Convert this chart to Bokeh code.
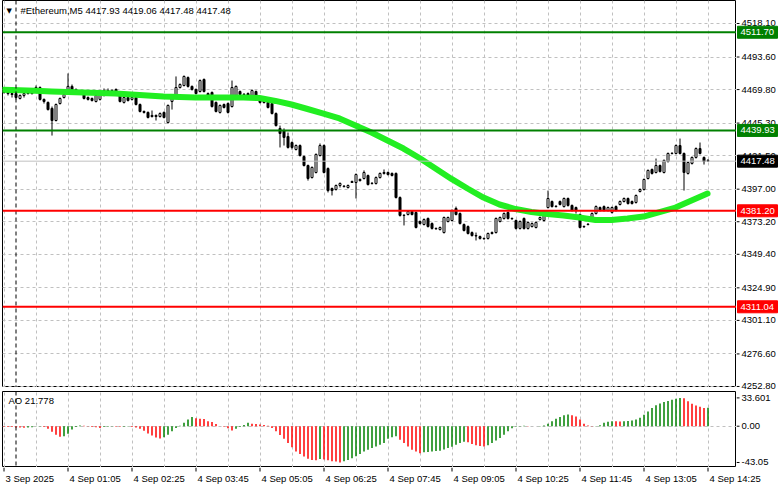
from bokeh.plotting import figure
from bokeh.models import Range1d, FixedTicker, Span, ColumnDataSource
from bokeh.layouts import column, row
from bokeh.embed import file_html
from bokeh.resources import INLINE
from bokeh.core.properties import value

# ---------------- data ----------------
bar_open = [
    4467.7, 4468.4, 4466.9, 4466.9, 4463.3, 4465.5, 4466.9, 4466.9, 4469.9, 4471.3,
    4462.6, 4460.4, 4456.0, 4447.2, 4459.6, 4464.0, 4466.9, 4472.1, 4469.9, 4468.4,
    4468.4, 4464.0, 4463.3, 4461.1, 4462.6, 4465.5, 4469.1, 4468.4, 4469.9, 4465.5,
    4460.4, 4464.0, 4462.6, 4464.0, 4458.9, 4453.8, 4453.1, 4450.1, 4450.9, 4450.1,
    4453.1, 4445.7, 4461.1, 4465.5, 4471.3, 4472.8, 4478.6, 4472.1, 4469.9, 4468.4,
    4477.2, 4466.9, 4467.7, 4460.4, 4453.1, 4458.9, 4459.6, 4457.4, 4465.5, 4468.4,
    4466.2, 4466.9, 4465.5, 4468.4, 4463.3, 4461.8, 4460.4, 4459.6, 4452.3, 4441.4,
    4439.9, 4435.5, 4431.1, 4426.0, 4428.9, 4420.9, 4414.3, 4405.5, 4409.2, 4421.6,
    4428.9, 4412.1, 4397.5, 4396.8, 4399.7, 4399.0, 4398.2, 4401.9, 4401.9, 4404.1,
    4404.8, 4407.0, 4401.2, 4401.2, 4405.5, 4408.5, 4409.2, 4408.5, 4408.5, 4390.9,
    4377.8, 4378.5, 4380.7, 4380.0, 4373.4, 4371.2, 4375.6, 4371.9, 4368.3, 4367.5,
    4365.3, 4373.4, 4374.1, 4382.9, 4379.2, 4371.2, 4369.7, 4365.3, 4363.1, 4362.4,
    4361.0, 4361.0, 4364.6, 4365.3, 4373.4, 4375.6, 4380.0, 4375.6, 4374.1, 4368.3,
    4375.6, 4368.3, 4369.7, 4369.0, 4374.8, 4374.1, 4383.6, 4388.0, 4384.3, 4388.0,
    4384.3, 4390.2, 4385.1, 4383.6, 4378.5, 4369.7, 4371.2, 4375.6, 4379.2, 4383.6,
    4384.3, 4381.4, 4380.0, 4384.3, 4385.8, 4388.0, 4390.2, 4388.0, 4387.3, 4395.3,
    4396.8, 4404.8, 4411.4, 4409.2, 4414.3, 4409.2, 4417.2, 4423.1, 4423.1, 4428.9,
    4423.1, 4408.5, 4415.8, 4420.2, 4426.7, 4420.2, 4417.93,
]
bar_high = [
    4469.1, 4469.1, 4467.7, 4467.7, 4466.2, 4467.7, 4467.7, 4470.6, 4472.8, 4472.1,
    4463.3, 4461.1, 4457.4, 4459.6, 4464.0, 4466.9, 4481.6, 4473.5, 4470.6, 4469.1,
    4469.1, 4464.8, 4464.0, 4466.2, 4466.2, 4470.6, 4470.6, 4469.9, 4470.6, 4466.2,
    4464.8, 4464.8, 4464.8, 4464.8, 4459.6, 4454.5, 4453.8, 4454.5, 4451.6, 4453.1,
    4453.8, 4458.9, 4465.5, 4479.4, 4474.3, 4480.1, 4479.4, 4472.8, 4470.6, 4477.2,
    4477.9, 4467.7, 4468.4, 4461.1, 4458.9, 4459.6, 4460.4, 4476.4, 4472.8, 4469.1,
    4466.9, 4467.7, 4469.9, 4469.1, 4464.0, 4462.6, 4461.1, 4460.4, 4453.1, 4443.5,
    4441.4, 4438.4, 4431.9, 4429.7, 4429.7, 4421.6, 4415.0, 4413.6, 4423.1, 4430.4,
    4429.7, 4412.9, 4398.2, 4400.4, 4401.9, 4399.7, 4400.4, 4403.3, 4408.5, 4404.8,
    4410.7, 4407.7, 4401.9, 4406.3, 4409.2, 4411.4, 4409.9, 4409.2, 4409.2, 4391.7,
    4378.5, 4381.4, 4381.4, 4380.7, 4374.1, 4375.6, 4376.3, 4372.7, 4369.0, 4369.7,
    4377.0, 4377.0, 4382.2, 4384.3, 4380.0, 4371.9, 4370.5, 4366.1, 4365.3, 4363.1,
    4361.7, 4365.3, 4366.1, 4376.3, 4377.0, 4380.0, 4380.7, 4376.3, 4374.8, 4374.1,
    4376.3, 4373.4, 4372.7, 4373.4, 4377.0, 4380.0, 4396.0, 4388.7, 4385.1, 4388.7,
    4390.9, 4390.9, 4385.8, 4384.3, 4379.2, 4370.5, 4371.9, 4380.0, 4385.1, 4384.3,
    4385.1, 4384.3, 4384.3, 4385.1, 4388.7, 4390.9, 4390.9, 4388.7, 4393.1, 4397.5,
    4404.8, 4411.4, 4412.1, 4419.4, 4415.0, 4418.7, 4423.8, 4423.8, 4429.7, 4434.0,
    4423.8, 4417.2, 4420.9, 4427.5, 4431.1, 4420.9, 4419.06,
]
bar_low = [
    4466.9, 4465.5, 4464.0, 4462.6, 4462.6, 4464.0, 4466.2, 4466.2, 4469.1, 4461.8,
    4459.6, 4454.5, 4436.2, 4446.5, 4458.9, 4463.3, 4466.2, 4468.4, 4466.9, 4467.7,
    4462.6, 4461.8, 4461.1, 4460.4, 4461.8, 4464.8, 4467.7, 4467.7, 4467.7, 4460.4,
    4459.6, 4461.1, 4461.8, 4458.2, 4453.1, 4452.3, 4448.7, 4449.4, 4447.2, 4449.4,
    4448.7, 4445.0, 4455.2, 4464.8, 4470.6, 4472.1, 4471.3, 4469.1, 4466.2, 4467.7,
    4467.7, 4464.8, 4456.7, 4453.1, 4452.3, 4456.0, 4452.3, 4456.7, 4464.8, 4465.5,
    4465.5, 4464.0, 4464.8, 4464.8, 4459.6, 4459.6, 4456.0, 4451.6, 4442.8, 4427.5,
    4428.9, 4426.7, 4426.0, 4425.3, 4420.9, 4413.6, 4403.3, 4404.8, 4408.5, 4420.9,
    4408.5, 4394.6, 4392.4, 4396.0, 4398.2, 4398.2, 4397.5, 4401.9, 4390.2, 4402.6,
    4404.1, 4399.7, 4400.4, 4400.4, 4404.8, 4407.7, 4407.0, 4406.3, 4390.2, 4377.0,
    4370.5, 4377.8, 4377.8, 4368.3, 4371.2, 4370.5, 4369.0, 4367.5, 4367.5, 4366.8,
    4364.6, 4372.7, 4373.4, 4377.8, 4371.2, 4366.1, 4363.9, 4362.4, 4359.5, 4360.2,
    4360.2, 4360.2, 4363.9, 4364.6, 4372.7, 4374.8, 4374.8, 4374.8, 4367.5, 4367.5,
    4367.5, 4367.5, 4369.0, 4368.3, 4374.1, 4373.4, 4382.9, 4383.6, 4383.6, 4385.1,
    4383.6, 4384.3, 4380.7, 4379.2, 4368.3, 4369.0, 4370.5, 4374.8, 4378.5, 4380.7,
    4380.7, 4380.7, 4379.2, 4380.7, 4385.1, 4387.3, 4385.8, 4385.8, 4386.5, 4394.6,
    4396.0, 4404.1, 4407.7, 4408.5, 4409.2, 4408.5, 4416.5, 4422.4, 4422.4, 4422.4,
    4396.0, 4407.7, 4415.0, 4419.4, 4422.4, 4415.0, 4417.48,
]
bar_close = [
    4468.4, 4466.9, 4466.2, 4464.0, 4465.5, 4466.9, 4467.2, 4469.9, 4471.3, 4462.6,
    4461.1, 4455.2, 4447.2, 4458.9, 4463.3, 4466.2, 4472.1, 4469.1, 4468.4, 4468.7,
    4463.3, 4462.6, 4461.8, 4465.5, 4465.5, 4469.1, 4468.4, 4469.1, 4468.4, 4461.1,
    4464.0, 4461.8, 4464.0, 4458.9, 4453.8, 4453.1, 4449.4, 4450.9, 4450.1, 4452.3,
    4449.4, 4458.2, 4464.8, 4471.3, 4473.5, 4479.4, 4472.1, 4469.9, 4466.9, 4476.4,
    4468.4, 4465.5, 4457.4, 4453.8, 4458.2, 4456.7, 4453.1, 4471.3, 4472.1, 4466.2,
    4466.5, 4464.8, 4469.1, 4465.5, 4460.4, 4460.4, 4456.7, 4452.3, 4443.5, 4437.7,
    4434.8, 4427.5, 4427.5, 4428.9, 4421.6, 4414.3, 4404.8, 4412.9, 4422.4, 4428.9,
    4409.2, 4396.0, 4396.0, 4399.7, 4401.2, 4399.3, 4399.7, 4402.6, 4407.7, 4403.3,
    4409.2, 4400.4, 4401.4, 4405.5, 4408.5, 4409.2, 4407.7, 4407.0, 4390.9, 4377.8,
    4378.0, 4380.7, 4378.5, 4369.0, 4371.9, 4374.8, 4369.7, 4368.3, 4368.0, 4369.0,
    4376.3, 4376.3, 4381.4, 4378.5, 4371.9, 4366.8, 4364.6, 4363.1, 4362.8, 4361.0,
    4360.7, 4364.6, 4365.3, 4375.6, 4376.3, 4379.2, 4375.6, 4375.3, 4368.3, 4373.4,
    4368.3, 4372.7, 4371.9, 4372.7, 4376.3, 4379.2, 4390.2, 4384.3, 4384.6, 4385.8,
    4390.2, 4385.1, 4381.4, 4381.4, 4369.0, 4369.4, 4371.5, 4379.2, 4384.3, 4381.4,
    4381.4, 4383.6, 4383.6, 4381.4, 4388.0, 4390.2, 4386.5, 4386.5, 4392.4, 4396.8,
    4404.1, 4410.7, 4408.5, 4414.3, 4409.9, 4418.0, 4423.1, 4423.3, 4428.9, 4423.1,
    4409.2, 4416.5, 4420.2, 4426.7, 4423.1, 4417.2, 4417.48,
]

ma_bar = list(range(0, 177, 4))
ma_value = [
    4469.6, 4469.3, 4468.9, 4468.4, 4468.0, 4467.7, 4467.3, 4466.9, 4466.2, 4465.5,
    4464.7, 4464.4, 4464.0, 4464.0, 4464.0, 4464.0, 4463.6, 4461.5, 4458.9, 4455.6,
    4452.3, 4448.7, 4443.5, 4438.4, 4432.6, 4426.7, 4419.8, 4412.1, 4404.5, 4397.5,
    4390.9, 4385.8, 4382.5, 4380.3, 4378.9, 4377.8, 4376.3, 4374.5, 4374.5, 4375.6,
    4377.0, 4380.3, 4383.6, 4388.7, 4393.8,
]

ao_value = [
    -0.6, -0.8, -1.0, -1.4, -1.6, -1.8, -1.5, -1.2, -0.3, 0.2,
    -1.0, -3.0, -6.5, -10.0, -12.5, -12.0, -9.0, -4.0, -1.0, 0.8,
    0.5, -0.3, -0.8, -1.2, -2.0, -1.0, -0.5, -0.3, -0.5, -0.7,
    -0.5, -0.3, -0.8, -1.5, -3.0, -5.5, -8.5, -11.0, -13.5, -14.5,
    -13.0, -10.0, -6.0, -2.0, 0.5, 4.0, 8.0, 11.0, 9.5, 9.0,
    8.5, 6.0, 5.0, 2.5, 0.0, -0.5, -2.5, -5.0, -3.0, -1.0,
    1.5, 4.0, 3.0, 2.5, 2.0, 1.5, 0.5, -2.0, -6.0, -10.5,
    -15.0, -20.0, -25.0, -30.0, -33.0, -36.0, -38.5, -40.0, -40.5, -39.0,
    -39.5, -40.5, -41.5, -42.0, -43.05, -41.5, -40.0, -38.0, -35.5, -33.0,
    -30.0, -28.0, -26.0, -24.0, -22.0, -20.0, -15.0, -13.0, -12.0, -16.0,
    -20.0, -24.0, -28.0, -30.0, -32.0, -31.0, -30.5, -30.0, -29.5, -29.0,
    -27.5, -26.0, -24.5, -22.0, -20.0, -18.5, -19.0, -21.0, -22.5, -23.5,
    -24.0, -22.5, -20.0, -17.0, -14.0, -10.0, -6.0, -2.5, -0.5, 0.3,
    0.5, 0.3, 0.1, 0.0, 0.2, 0.8, 3.0, 6.0, 9.0, 11.0,
    13.0, 14.0, 13.0, 11.5, 8.0, 3.0, 0.8, 0.2, 0.4, 1.0,
    4.0, 5.2, 6.0, 5.8, 5.6, 5.9, 6.3, 6.8, 8.0, 10.0,
    13.5, 17.5, 21.5, 25.0, 27.0, 28.7, 30.0, 31.3, 32.5, 33.601,
    33.3, 29.7, 26.8, 24.6, 23.0, 21.5, 21.778,
]

price_ticks = [4518.10, 4493.60, 4469.80, 4445.30, 4421.50, 4397.00,
               4373.20, 4349.40, 4324.90, 4301.10, 4276.60, 4252.80]
ao_ticks = [33.601, 0.0, -43.05]
ao_tick_labels = ["33.601", "0.00", "-43.05"]
time_tick_bar = list(range(0, 177, 16))
time_tick_labels = ["3 Sep 2025", "4 Sep 01:05", "4 Sep 02:25", "4 Sep 03:45",
                    "4 Sep 05:05", "4 Sep 06:25", "4 Sep 07:45", "4 Sep 09:05",
                    "4 Sep 10:25", "4 Sep 11:45", "4 Sep 13:05", "4 Sep 14:25"]
grid_bar = list(range(0, 177, 8))
day_separator_bar = 3
green_levels = [4511.70, 4439.93]
red_levels = [4381.20, 4311.04]
last_price = 4417.48
symbol = "#Ethereum,M5"
ao_name = "AO"

# ---------------- layout constants ----------------
FONT = "Liberation Sans"
FS = "9.5px"
LB = 2            # left white border
FW = 734          # chart frame width (px)
AXW = 45          # price scale width (px)
MH = 387          # main frame height
GAP = 4           # gap between panels
AH = 76           # AO frame height
TH = 22           # time label strip
X0, X1 = -0.25, 183.25
Y0, Y1 = 4252.05, 4534.91
A0, A1 = -49.0, 41.2
GREEN = "#008000"
RED = "#ff0000"
GRID = "#c0c0c0"
PX = (X1 - X0) / FW      # data units per pixel along x
SNAP = 0.5 * PX          # put 1px lines on pixel centres

n = min(len(bar_open), len(bar_high), len(bar_low), len(bar_close))
xs = [i + SNAP for i in range(n)]
tops = [max(bar_open[i], bar_close[i]) for i in range(n)]
bots = [min(bar_open[i], bar_close[i]) for i in range(n)]
fills = ["white" if bar_close[i] >= bar_open[i] else "black" for i in range(n)]
src = ColumnDataSource(dict(x=xs, high=bar_high[:n], low=bar_low[:n], top=tops, bottom=bots, fill=fills))
vgrid = FixedTicker(ticks=[g + SNAP for g in grid_bar])


def bare(fig):
    fig.background_fill_color = "white"
    fig.border_fill_color = "white"


# ---------------- main price panel ----------------
main = figure(frame_width=FW, frame_height=MH, x_range=Range1d(X0, X1), y_range=Range1d(Y0, Y1),
              x_axis_location=None, y_axis_location=None, output_backend="svg",
              toolbar_location=None, min_border=0, min_border_left=LB)
bare(main)
main.outline_line_color = "black"
main.ygrid.ticker = FixedTicker(ticks=price_ticks)
main.ygrid.grid_line_color = GRID
main.ygrid.grid_line_dash = "3 3"
main.xgrid.ticker = vgrid
main.xgrid.grid_line_color = GRID
main.xgrid.grid_line_dash = "3 3"

main.add_layout(Span(location=last_price, dimension="width", line_color=GRID, line_width=1))
main.add_layout(Span(location=day_separator_bar + SNAP, dimension="height", line_color="black",
                     line_width=1, line_dash="4 3"))

main.segment(x0="x", y0="low", x1="x", y1="high", source=src, line_color="black", line_width=1)
main.vbar(x="x", width=2 * PX, top="top", bottom="bottom", source=src,
          fill_color="fill", line_color="black", line_width=1)

main.line(ma_bar, ma_value, line_color="#22ee22", line_width=6, line_join="round", line_cap="round")

for lv in green_levels:
    main.add_layout(Span(location=lv, dimension="width", line_color=GREEN, line_width=2))
for lv in red_levels:
    main.add_layout(Span(location=lv, dimension="width", line_color=RED, line_width=2))

title_text = "%s  %.2f %.2f %.2f %.2f" % (symbol, bar_open[-1], bar_high[-1], bar_low[-1], bar_close[-1])
main.text(x=[X0], y=[Y1], text=["\u25bc"], x_offset=4, y_offset=10, text_baseline="middle",
          text_font=value("DejaVu Sans"), text_font_size="7px", text_color="black")
main.text(x=[X0], y=[Y1], text=[title_text], x_offset=18, y_offset=10, text_baseline="middle",
          text_font=value(FONT), text_font_size=FS, text_color="black")

# ---------------- AO panel ----------------
ao = figure(frame_width=FW, frame_height=AH, x_range=main.x_range, y_range=Range1d(A0, A1),
            x_axis_location=None, y_axis_location=None, output_backend="svg",
            toolbar_location=None, min_border=0, min_border_top=GAP, min_border_left=LB)
bare(ao)
ao.outline_line_color = "black"
ao.ygrid.ticker = FixedTicker(ticks=[0.0])
ao.ygrid.grid_line_color = GRID
ao.ygrid.grid_line_dash = "3 3"
ao.xgrid.ticker = vgrid
ao.xgrid.grid_line_color = GRID
ao.xgrid.grid_line_dash = "3 3"
ao.add_layout(Span(location=day_separator_bar + SNAP, dimension="height", line_color="black",
                   line_width=1, line_dash="4 3"))

m = len(ao_value)
ao_col = [RED] + [GREEN if ao_value[i] > ao_value[i - 1] else RED for i in range(1, m)]
ao_x = [i + SNAP for i in range(m)]
ao.vbar(x=ao_x, width=1.5 * PX, top=ao_value, bottom=[0.0] * m, fill_color=ao_col, line_color=None)
ao.text(x=[X0], y=[A1], text=["%s %.3f" % (ao_name, ao_value[-1])], x_offset=6, y_offset=9,
        text_baseline="middle", text_font=value(FONT), text_font_size=FS, text_color="black")

# ---------------- price scale (both panels) ----------------
AXH = MH + GAP + AH
p_per_px = (Y1 - Y0) / MH
a_per_px = (A1 - A0) / AH
ax = figure(frame_width=AXW, frame_height=AXH, x_range=Range1d(0, AXW),
            y_range=Range1d(Y1 - AXH * p_per_px, Y1),
            x_axis_location=None, y_axis_location=None, output_backend="svg",
            toolbar_location=None, min_border=0)
ax.extra_y_ranges = {"ao": Range1d(A0, A0 + AXH * a_per_px)}
bare(ax)
ax.outline_line_color = None
ax.xgrid.visible = False
ax.ygrid.visible = False

k = len(price_ticks)
ax.segment(x0=[0] * k, y0=price_ticks, x1=[3] * k, y1=price_ticks, line_color="black", line_width=1)
ax.text(x=[5] * k, y=price_ticks, text=["%.2f" % t for t in price_ticks], text_baseline="middle",
        text_font=value(FONT), text_font_size=FS, text_color="black")
ka = len(ao_ticks)
ax.segment(x0=[0] * ka, y0=ao_ticks, x1=[3] * ka, y1=ao_ticks, line_color="black",
           line_width=1, y_range_name="ao")
ax.text(x=[5] * ka, y=ao_ticks, text=ao_tick_labels, text_baseline="middle",
        text_font=value(FONT), text_font_size=FS, text_color="black", y_range_name="ao")

box_vals = green_levels + [last_price] + red_levels
box_cols = [GREEN] * len(green_levels) + ["black"] + [RED] * len(red_levels)
ax.rect(x=[21] * len(box_vals), y=box_vals, width=40, height=12, height_units="screen",
        fill_color=box_cols, line_color=box_cols)
ax.text(x=[4] * len(box_vals), y=box_vals, text=["%.2f" % v for v in box_vals],
        text_baseline="middle", text_font=value(FONT), text_font_size=FS, text_color="white")

# ---------------- time labels strip ----------------
TW = FW + AXW
tf = figure(frame_width=TW, frame_height=TH, x_range=Range1d(X0, X0 + TW * PX),
            y_range=Range1d(0, 1), x_axis_location=None, y_axis_location=None,
            output_backend="svg", toolbar_location=None, min_border=0, min_border_left=LB)
bare(tf)
tf.outline_line_color = None
tf.xgrid.visible = False
tf.ygrid.visible = False
tick_x = [t + SNAP for t in time_tick_bar]
tf.segment(x0=tick_x, y0=[1.0] * len(tick_x), x1=tick_x,
           y1=[1.0 - 4.0 / TH] * len(tick_x), line_color="black", line_width=1)
tf.text(x=time_tick_bar, y=[0.5] * len(time_tick_bar), text=time_tick_labels,
        text_align="left", text_baseline="middle", x_offset=2,
        text_font=value(FONT), text_font_size=FS, text_color="black")

layout = column(row(column(main, ao, spacing=0), ax, spacing=0), tf, spacing=0)
open("out.html", "w").write(file_html(layout, INLINE))
